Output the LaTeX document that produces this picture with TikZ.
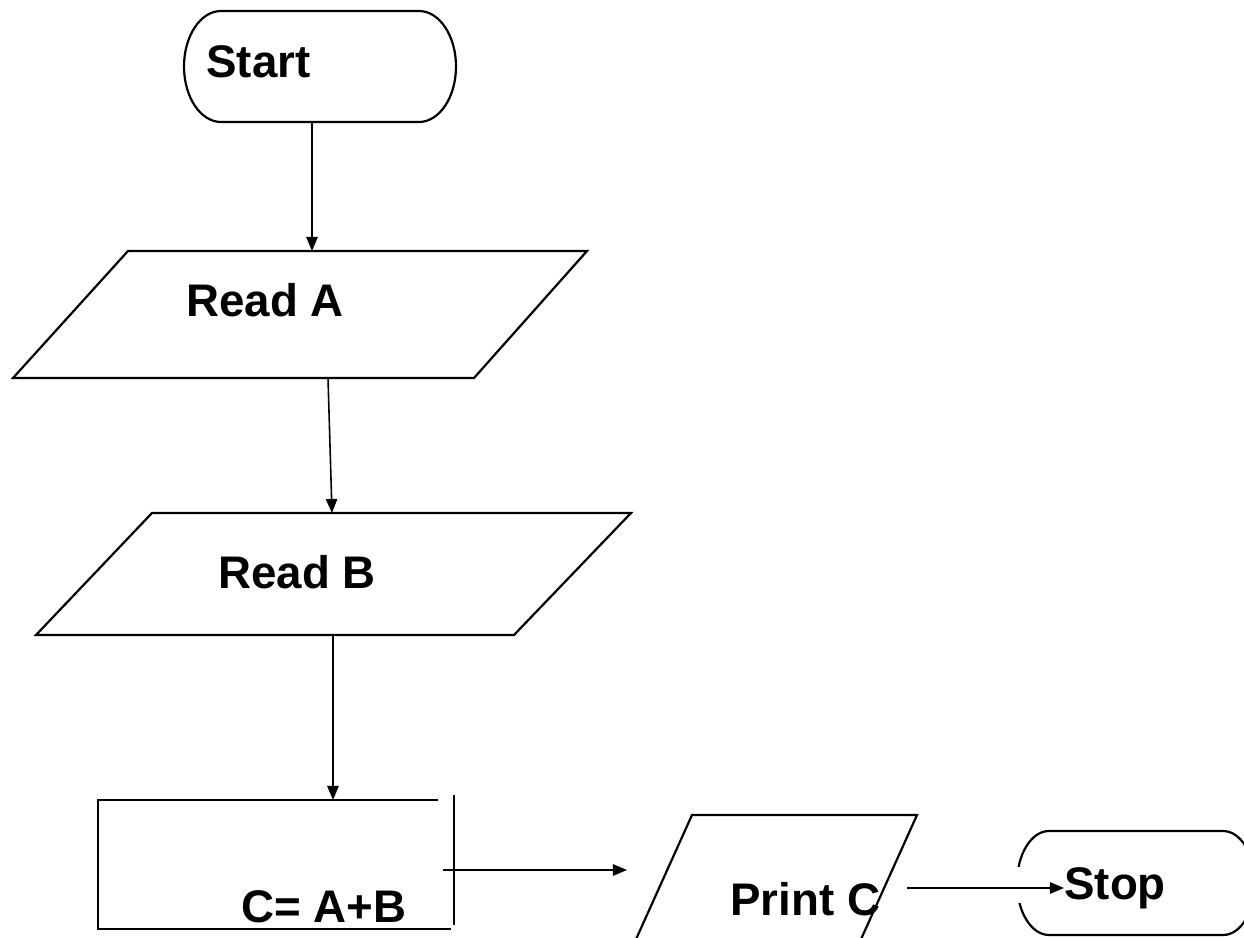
\documentclass[tikz,border=0pt]{standalone}
\usepackage{fontspec}
\setmainfont{Liberation Sans}
\usetikzlibrary{arrows.meta}
\begin{document}
\begin{tikzpicture}[x=0.02cm,y=0.02cm,
  shapeline/.style={draw=black,line width=1.25pt,line join=miter},
  arr/.style={draw=black,line width=0.9pt,-{Triangle[length=8pt,width=6.5pt]}},
  lbl/.style={inner sep=0pt,anchor=base west,font=\fontsize{26}{30}\selectfont\bfseries}]
\useasboundingbox (0,0) rectangle (1244,937);
\clip (0,0) rectangle (1244,937);
\fill[white] (0,0) rectangle (1244,937);

% Start terminal
\draw[shapeline] (221,926) -- (419,926)
  arc[start angle=90,end angle=-90,x radius=37,y radius=55.5]
  -- (221,815)
  arc[start angle=270,end angle=90,x radius=37,y radius=55.5] -- cycle;
\node[lbl] (start) at (206,859) {Start};
\coordinate (startOut) at (312,815);

% Read A
\draw[shapeline] (128,686) -- (587,686) -- (474,559) -- (13,559) -- cycle;
\node[lbl] (readA) at (186,620) {Read A};
\coordinate (readAIn) at (312,686);
\coordinate (readAOut) at (328,559);

% Read B
\draw[shapeline] (152,424) -- (631,424) -- (514,302) -- (36,302) -- cycle;
\node[lbl] (readB) at (218,348) {Read B};
\coordinate (readBIn) at (332,424);
\coordinate (readBOut) at (333,302);

% Process box C = A + B
\draw[shapeline] (438,137) -- (98,137) -- (98,8) -- (451,8);
\draw[shapeline] (454,142) -- (454,12);
\node[lbl] (calc) at (241,15) {C= A+B};
\coordinate (calcIn) at (333,137);
\coordinate (calcOut) at (443,67);

% Print C
\draw[shapeline] (628,-20) -- (692,122) -- (917,122) -- (853,-20);
\node[lbl] (printC) at (730,22) {Print C};
\coordinate (printIn) at (627,67);
\coordinate (printOut) at (907,49);

% Stop terminal
\draw[shapeline] (1049,106) -- (1223,106)
  arc[start angle=90,end angle=-90,x radius=32,y radius=52]
  -- (1049,2)
  arc[start angle=270,end angle=90,x radius=32,y radius=52] -- cycle;
\fill[white] (1008,34) rectangle (1032,70);
\node[lbl] (stop) at (1064,38) {Stop};
\coordinate (stopIn) at (1064,49);

% Connectors
\draw[arr] (startOut) -- (readAIn);
\draw[arr] (readAOut) -- (readBIn);
\draw[arr] (readBOut) -- (calcIn);
\draw[arr] (calcOut) -- (printIn);
\draw[arr] (printOut) -- (stopIn);
\end{tikzpicture}
\end{document}
